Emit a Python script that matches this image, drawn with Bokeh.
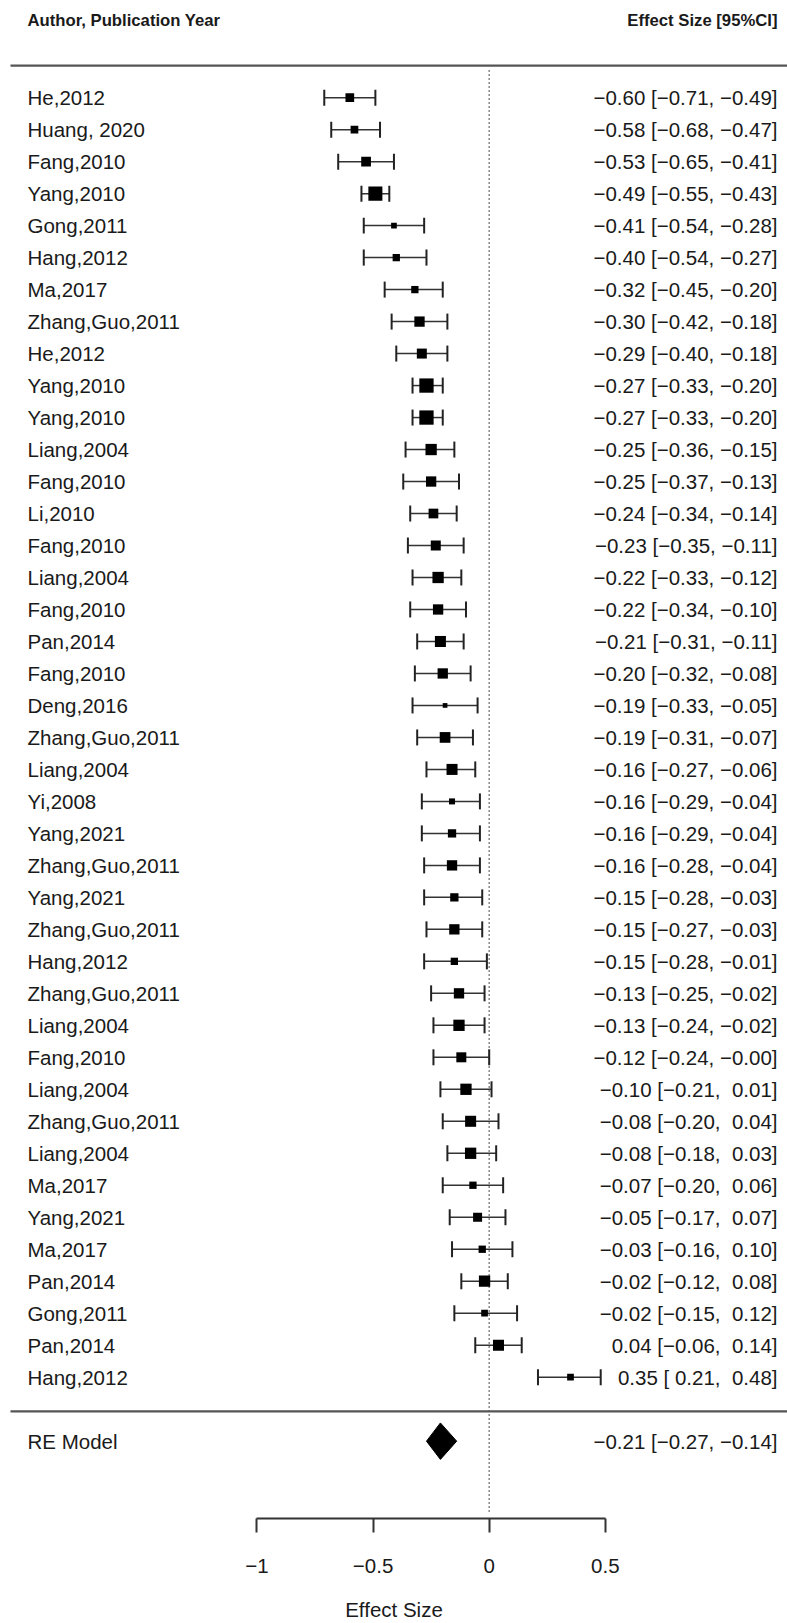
from bokeh.plotting import figure
from bokeh.models import ColumnDataSource, FixedTicker, Range1d
from bokeh.embed import file_html
from bokeh.resources import INLINE
from bokeh.core.properties import value

# ---------------- data ----------------
studies = [
    "He,2012", "Huang, 2020", "Fang,2010", "Yang,2010", "Gong,2011", "Hang,2012",
    "Ma,2017", "Zhang,Guo,2011", "He,2012", "Yang,2010", "Yang,2010", "Liang,2004",
    "Fang,2010", "Li,2010", "Fang,2010", "Liang,2004", "Fang,2010", "Pan,2014",
    "Fang,2010", "Deng,2016", "Zhang,Guo,2011", "Liang,2004", "Yi,2008", "Yang,2021",
    "Zhang,Guo,2011", "Yang,2021", "Zhang,Guo,2011", "Hang,2012", "Zhang,Guo,2011",
    "Liang,2004", "Fang,2010", "Liang,2004", "Zhang,Guo,2011", "Liang,2004", "Ma,2017",
    "Yang,2021", "Ma,2017", "Pan,2014", "Gong,2011", "Pan,2014", "Hang,2012",
]
estimates = [
    -0.60, -0.58, -0.53, -0.49, -0.41, -0.40, -0.32, -0.30, -0.29, -0.27, -0.27,
    -0.25, -0.25, -0.24, -0.23, -0.22, -0.22, -0.21, -0.20, -0.19, -0.19, -0.16,
    -0.16, -0.16, -0.16, -0.15, -0.15, -0.15, -0.13, -0.13, -0.12, -0.10, -0.08,
    -0.08, -0.07, -0.05, -0.03, -0.02, -0.02, 0.04, 0.35,
]
ci_lower = [
    -0.71, -0.68, -0.65, -0.55, -0.54, -0.54, -0.45, -0.42, -0.40, -0.33, -0.33,
    -0.36, -0.37, -0.34, -0.35, -0.33, -0.34, -0.31, -0.32, -0.33, -0.31, -0.27,
    -0.29, -0.29, -0.28, -0.28, -0.27, -0.28, -0.25, -0.24, -0.24, -0.21, -0.20,
    -0.18, -0.20, -0.17, -0.16, -0.12, -0.15, -0.06, 0.21,
]
ci_upper = [
    -0.49, -0.47, -0.41, -0.43, -0.28, -0.27, -0.20, -0.18, -0.18, -0.20, -0.20,
    -0.15, -0.13, -0.14, -0.11, -0.12, -0.10, -0.11, -0.08, -0.05, -0.07, -0.06,
    -0.04, -0.04, -0.04, -0.03, -0.03, -0.01, -0.02, -0.02, -0.0, 0.01, 0.04,
    0.03, 0.06, 0.07, 0.10, 0.08, 0.12, 0.14, 0.48,
]
# study weights (%)
weights = [
    2.20, 1.95, 2.46, 3.55, 1.44, 1.85, 1.85, 2.61, 2.53, 3.62, 3.62,
    2.86, 2.61, 2.46, 2.53, 2.86, 2.61, 2.79, 2.61, 1.19, 2.71, 2.79,
    1.52, 2.10, 2.61, 2.10, 2.61, 1.85, 2.61, 2.86, 2.53, 2.86, 2.79,
    2.86, 1.85, 2.28, 1.85, 2.86, 1.70, 2.79, 1.70,
]
pooled_label = "RE Model"
pooled_est = -0.21
pooled_lower = -0.27
pooled_upper = -0.14

tick_values = [-1, -0.5, 0, 0.5]
tick_labels = ["\u22121", "\u22120.5", "0", "0.5"]
header_left = "Author, Publication Year"
header_right = "Effect Size [95%CI]"
x_title = "Effect Size"

# ---------------- layout constants ----------------
FONT = "Liberation Sans"
W, H = 787, 1623
FRAME_H = 1520
PX_PER_X = 232.3
ZERO_PX = 488.7          # x=0 position inside the figure
ROW_PX = 32.03
FIRST_ROW_PX = 97.3      # first study row position inside the figure
SIZE_PER_WEIGHT = 3.95

n = len(studies)
XL = -ZERO_PX / PX_PER_X
XR = XL + W / PX_PER_X
YT = n + FIRST_ROW_PX / ROW_PX
YB = YT - FRAME_H / ROW_PX

LABEL_X = XL + 27 / PX_PER_X
RIGHT_X = XL + 777 / PX_PER_X
LINE_X0 = XL + 10 / PX_PER_X
NBSP = "\u00a0"


def fmt(v):
    s = f"{v:.2f}"
    if s.startswith("-"):
        return "\u2212" + s[1:]
    return NBSP + s


def ci_text(e, lo, hi):
    return f"{fmt(e).lstrip(NBSP)} [{fmt(lo)}, {fmt(hi)}]"


rows = [n - i for i in range(n)]
cap = 0.25
src = ColumnDataSource(dict(
    y=rows,
    est=estimates,
    lo=ci_lower,
    hi=ci_upper,
    ylo=[r - cap for r in rows],
    yhi=[r + cap for r in rows],
    size=[w * SIZE_PER_WEIGHT for w in weights],
    label=studies,
    txt=[ci_text(e, l, h) for e, l, h in zip(estimates, ci_lower, ci_upper)],
))

p = figure(width=W, height=H, x_range=Range1d(XL, XR), y_range=Range1d(YB, YT),
           output_backend="svg", toolbar_location=None, y_axis_location=None,
           min_border_left=0, min_border_right=0, min_border_top=0,
           min_border_bottom=H - FRAME_H, outline_line_color=None,
           background_fill_color="white", border_fill_color="white")
p.grid.visible = False

# reference (null effect) line
p.segment(x0=0, y0=-3.2, x1=0, y1=n + 0.85, line_dash="1 3",
          line_color="#111111", line_width=1.5)

# header / separator lines
hdr_y = n + 1.0
sep_y = -0.07
p.segment(x0=[LINE_X0, LINE_X0], y0=[hdr_y, sep_y], x1=[XR, XR], y1=[hdr_y, sep_y],
          line_color="#555555", line_width=2.2)

# CI whiskers
p.segment(x0="lo", y0="y", x1="hi", y1="y", source=src, line_color="#333333", line_width=1.5)
p.segment(x0="lo", y0="ylo", x1="lo", y1="yhi", source=src, line_color="#222222", line_width=2)
p.segment(x0="hi", y0="ylo", x1="hi", y1="yhi", source=src, line_color="#222222", line_width=2)

# squares
p.scatter(x="est", y="y", size="size", marker="square", source=src,
          fill_color="black", line_color=None)

# pooled diamond
dh = 0.57
p.patch(x=[pooled_lower, pooled_est, pooled_upper, pooled_est],
        y=[-1, -1 + dh, -1, -1 - dh], fill_color="black", line_color="black")

# texts
TS = "20.5px"
p.text(x=LABEL_X, y="y", text="label", source=src, text_font=value(FONT),
       text_font_size=TS, text_align="left", text_baseline="middle", text_color="#1a1a1a")
p.text(x=RIGHT_X, y="y", text="txt", source=src, text_font=value(FONT),
       text_font_size=TS, text_align="right", text_baseline="middle", text_color="#1a1a1a")
p.text(x=[LABEL_X], y=[-1], text=[pooled_label], text_font=value(FONT),
       text_font_size=TS, text_align="left", text_baseline="middle", text_color="#1a1a1a")
p.text(x=[RIGHT_X], y=[-1], text=[ci_text(pooled_est, pooled_lower, pooled_upper)],
       text_font=value(FONT), text_font_size=TS, text_align="right",
       text_baseline="middle", text_color="#1a1a1a")

head_y = n + 77.3 / ROW_PX
p.text(x=[LABEL_X], y=[head_y], text=[header_left], text_font=value(FONT),
       text_font_size="16.7px", text_font_style="bold", text_align="left",
       text_baseline="middle", text_color="#1a1a1a")
p.text(x=[RIGHT_X], y=[head_y], text=[header_right], text_font=value(FONT),
       text_font_size="16.7px", text_font_style="bold", text_align="right",
       text_baseline="middle", text_color="#1a1a1a")

# x axis
ax = p.xaxis[0]
ax.ticker = FixedTicker(ticks=tick_values)
ax.bounds = (tick_values[0], tick_values[-1])
ax.major_label_overrides = dict(zip(tick_values, tick_labels))
ax.minor_tick_line_color = None
ax.major_tick_in = 0
ax.major_tick_out = 14
ax.major_tick_line_width = 2
ax.major_tick_line_color = "#333333"
ax.axis_line_width = 2
ax.axis_line_color = "#333333"
ax.major_label_text_font = FONT
ax.major_label_text_font_size = TS
ax.major_label_text_color = "#1a1a1a"
ax.major_label_standoff = 26
ax.axis_label = x_title
ax.axis_label_text_font = FONT
ax.axis_label_text_font_size = TS
ax.axis_label_text_font_style = "normal"
ax.axis_label_text_color = "#1a1a1a"
ax.axis_label_standoff = 22

open("out.html", "w").write(file_html(p, INLINE))
